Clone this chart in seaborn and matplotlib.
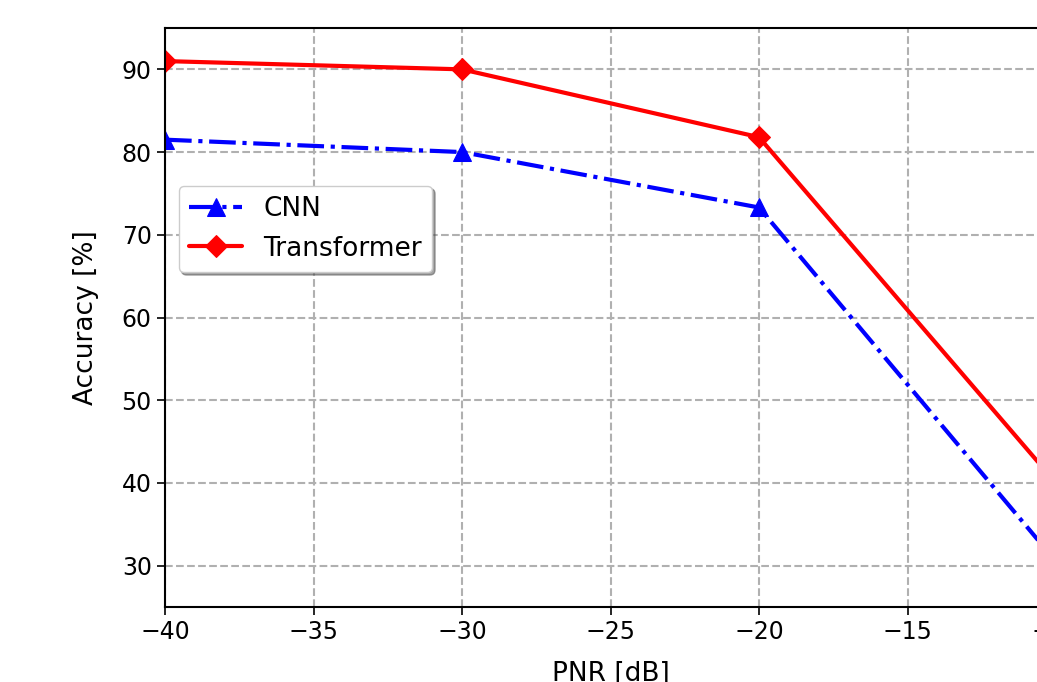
import numpy as np
import pandas as pd
import seaborn as sns
import matplotlib
matplotlib.use('Agg')
import matplotlib.pyplot as plt

# data
pnr = [-40, -30, -20, -10]
acc_cnn = [81.5, 80.0, 73.3, 30.5]
acc_transformer = [91.0, 90.0, 81.8, 40.0]

df = pd.DataFrame({'PNR': pnr + pnr,
                   'Accuracy': acc_cnn + acc_transformer,
                   'Model': ['CNN'] * len(pnr) + ['Transformer'] * len(pnr)})

sns.set_style('ticks')
plt.rcParams['font.family'] = ['DejaVu Sans']
plt.rcParams['font.size'] = 17
for k in ['text.color', 'axes.labelcolor', 'xtick.color', 'ytick.color']:
    plt.rcParams[k] = 'black'

fig = plt.figure(figsize=(10.37, 6.82), dpi=100)
# axes runs past the right edge, like the cropped original
ax = fig.add_axes([165 / 1037, 75 / 682, 891 / 1037, 579 / 682])

sns.lineplot(data=df[df.Model == 'CNN'], x='PNR', y='Accuracy', ax=ax,
             color='blue', linestyle='-.', marker='^', markersize=13,
             markeredgecolor='blue', linewidth=3, label='CNN')
sns.lineplot(data=df[df.Model == 'Transformer'], x='PNR', y='Accuracy', ax=ax,
             color='red', linestyle='-', marker='D', markersize=11,
             markeredgecolor='red', linewidth=3, label='Transformer')

ax.set_xlim(-40, -10)
ax.set_ylim(25, 95)
ax.set_xticks([-40, -35, -30, -25, -20, -15, -10])
ax.set_yticks([30, 40, 50, 60, 70, 80, 90])
ax.grid(True, linestyle='--', color='#b0b0b0', linewidth=1.5)
ax.tick_params(direction='out', length=6, width=1.2, labelsize=17)
for s in ax.spines.values():
    s.set_linewidth(1.5)
    s.set_color('black')
ax.set_xlabel('PNR [dB]', fontsize=19, labelpad=12)
ax.set_ylabel('Accuracy [%]', fontsize=19, labelpad=16)

ax.legend(loc='upper left', bbox_to_anchor=(0.0005, 0.75), shadow=True,
          fancybox=True, fontsize=19, framealpha=1, edgecolor='#cccccc')

fig.savefig('out.png', dpi=100)
